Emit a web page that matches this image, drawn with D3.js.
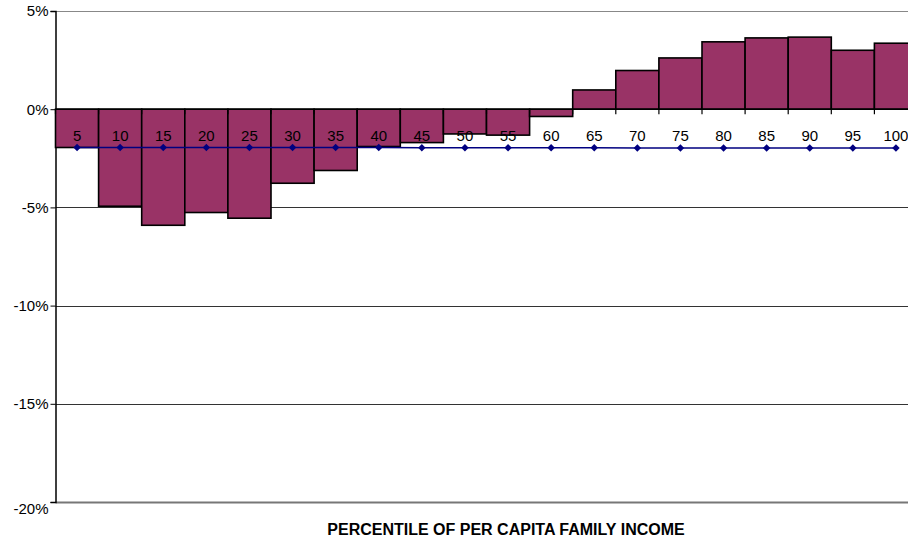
<!DOCTYPE html>
<html>
<head>
<meta charset="utf-8">
<script src="https://cdn.jsdelivr.net/npm/d3@7"></script>
<style>
  body { margin: 0; background: #fff; }
  svg { display: block; font-family: "Liberation Sans", Arial, sans-serif; }
</style>
</head>
<body>
<div class="grafico"></div>
<script>
const width = 908, height = 539;

// percentile categories
const percentiles = ["5", "10", "15", "20", "25", "30", "35", "40", "45", "50",
                     "55", "60", "65", "70", "75", "80", "85", "90", "95", "100"];
// bar series (percent)
const barValues = [-1.95, -4.94, -5.91, -5.26, -5.55, -3.77, -3.12, -1.90, -1.70, -1.26,
                   -1.32, -0.37, 0.98, 1.97, 2.61, 3.43, 3.63, 3.67, 3.00, 3.36];
// line series (percent)
const lineValues = [-1.95, -1.95, -1.95, -1.95, -1.95, -1.95, -1.95, -1.95, -1.96, -1.96,
                    -1.96, -1.96, -1.96, -1.97, -1.97, -1.97, -1.97, -1.97, -1.97, -1.98];
const yTicks = [5, 0, -5, -10, -15, -20];
const xTitle = "PERCENTILE OF PER CAPITA FAMILY INCOME";

const svg = d3.select(".grafico")
    .append("svg")
    .attr("width", width)
    .attr("height", height);

const x = d3.scaleBand()
    .domain(percentiles)
    .range([55.5, 917.5])
    .padding(0);

const y = d3.scaleLinear()
    .domain([-20, 5])
    .range([502, 11]);

// gridlines
svg.append("g")
    .selectAll("line")
    .data(yTicks.filter(d => d !== 0 && d !== -20))
    .enter().append("line")
    .attr("x1", 55.5).attr("x2", width)
    .attr("y1", d => Math.round(y(d)) + 0.5)
    .attr("y2", d => Math.round(y(d)) + 0.5)
    .attr("stroke", d => d === 5 ? "#888" : "#333")
    .attr("stroke-width", 1.2);

// bottom frame
svg.append("line")
    .attr("x1", 55.5).attr("x2", width)
    .attr("y1", y(-20) + 0.5).attr("y2", y(-20) + 0.5)
    .attr("stroke", "#777")
    .attr("stroke-width", 2);

// y axis
const yAxis = d3.axisLeft(y)
    .tickValues(yTicks)
    .tickSize(5)
    .tickFormat(d => d + "%");

svg.append("g")
    .attr("transform", "translate(55.5,0)")
    .call(yAxis)
    .call(g => g.select(".domain").attr("stroke", "#000").attr("stroke-width", 1.5))
    .call(g => g.selectAll(".tick line").attr("stroke", "#000"))
    .call(g => g.selectAll(".tick text")
        .attr("font-size", 15)
        .attr("fill", "#000")
        .attr("font-family", "Liberation Sans, Arial, sans-serif")
        .attr("x", -7)
        .attr("dy", d => d === -20 ? "0.75em" : "0.32em"));

// bars
svg.append("g")
    .selectAll("rect")
    .data(barValues)
    .enter().append("rect")
    .attr("x", (d, i) => x(percentiles[i]))
    .attr("width", x.bandwidth())
    .attr("y", d => y(Math.max(0, d)))
    .attr("height", d => Math.abs(y(d) - y(0)))
    .attr("fill", "#993366")
    .attr("stroke", "#000")
    .attr("stroke-width", 1.6);

// zero axis with tick marks between categories
svg.append("line")
    .attr("x1", 55.5).attr("x2", width)
    .attr("y1", y(0)).attr("y2", y(0))
    .attr("stroke", "#000")
    .attr("stroke-width", 1.5);

svg.append("g")
    .selectAll("line")
    .data(percentiles)
    .enter().append("line")
    .attr("x1", d => x(d)).attr("x2", d => x(d))
    .attr("y1", y(0)).attr("y2", y(0) + 5)
    .attr("stroke", "#000")
    .attr("stroke-width", 1.2);

// category labels
svg.append("g")
    .selectAll("text")
    .data(percentiles)
    .enter().append("text")
    .attr("x", d => x(d) + x.bandwidth() / 2)
    .attr("y", 141)
    .attr("text-anchor", "middle")
    .attr("font-size", 15)
    .attr("fill", "#000")
    .text(d => d);

// line series
const line = d3.line()
    .x((d, i) => x(percentiles[i]) + x.bandwidth() / 2)
    .y(d => y(d));

svg.append("path")
    .datum(lineValues)
    .attr("d", line)
    .attr("fill", "none")
    .attr("stroke", "#000080")
    .attr("stroke-width", 1.5);

const marker = d3.symbol().type(d3.symbolSquare).size(28);

svg.append("g")
    .selectAll("path")
    .data(lineValues)
    .enter().append("path")
    .attr("d", marker)
    .attr("transform", (d, i) => `translate(${x(percentiles[i]) + x.bandwidth() / 2},${y(d)}) rotate(45)`)
    .attr("fill", "#000080");

// axis title
svg.append("text")
    .attr("x", 506)
    .attr("y", 535)
    .attr("text-anchor", "middle")
    .attr("font-size", 16)
    .attr("font-weight", "bold")
    .attr("fill", "#000")
    .text(xTitle);
</script>
</body>
</html>
